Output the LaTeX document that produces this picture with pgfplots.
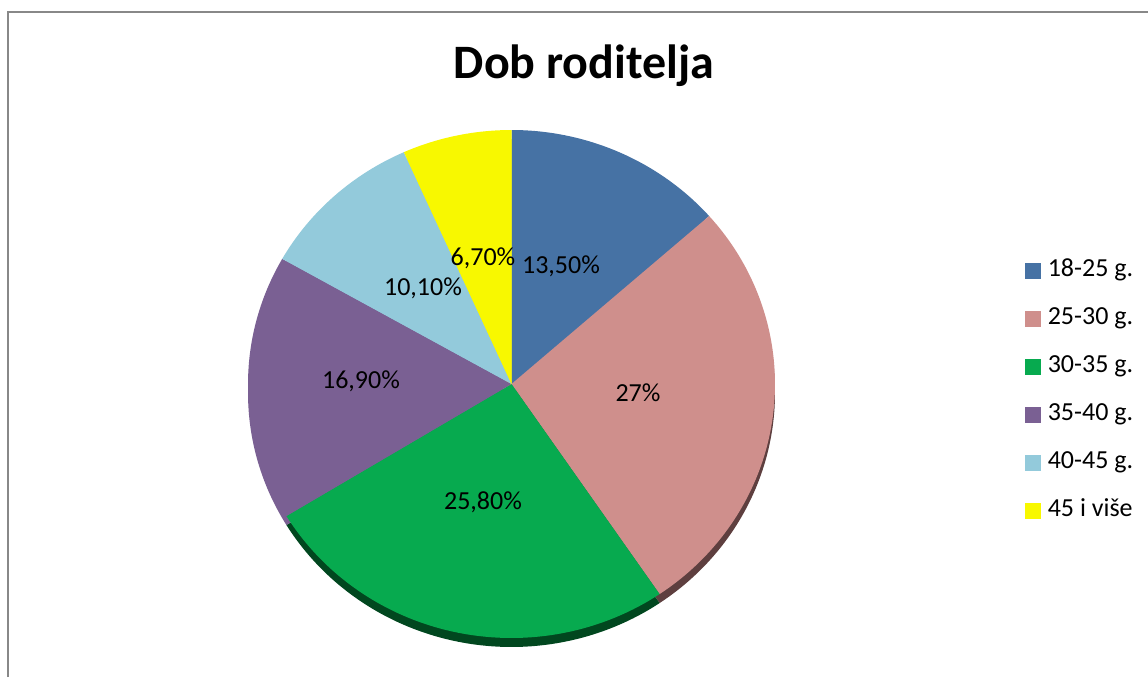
\documentclass[border=0pt]{standalone}
\usepackage{pgfplots}
\pgfplotsset{compat=1.18}
\usepackage{pgfplotstable}
\usepackage{fontspec}
\setmainfont{Carlito}
\definecolor{cA}{HTML}{4672A4}
\definecolor{cB}{HTML}{CF8F8C}
\definecolor{cC}{HTML}{07AA4F}
\definecolor{cD}{HTML}{7A6093}
\definecolor{cE}{HTML}{93CADB}
\definecolor{cF}{HTML}{F8F800}
\definecolor{rA}{HTML}{4672A4}
\definecolor{rB}{HTML}{5E3F3F}
\definecolor{rC}{HTML}{01471F}
\definecolor{rD}{HTML}{7A6093}
\definecolor{rE}{HTML}{93CADB}
\definecolor{rF}{HTML}{F8F800}
\definecolor{frame}{HTML}{888888}
% value (percent), colour, rim colour, label text, label centre in pixels (x, y from top)
\pgfplotstableread{
val col rim lbl lx ly
13.5 cA rA 13,50 561 265
27   cB rB 27    638 393
25.8 cC rC 25,80 483 501
16.9 cD rD 16,90 361 380
10.1 cE rE 10,10 423 287
6.7  cF rF 6,70  483 257
}\piedata
\begin{document}
\begin{tikzpicture}
\useasboundingbox (0,0) rectangle (574pt,338.5pt);
\begin{axis}[at={(0,0)}, anchor=south west, x=0.5pt, y=0.5pt,
  xmin=0, xmax=1148, ymin=0, ymax=677, hide axis, clip=false,
  legend style={at={(axis cs:1025,418.6)}, anchor=north west, draw=none, fill=none,
    font=\fontsize{13}{15}\selectfont, inner sep=0pt, outer sep=0pt,
    row sep=12pt, nodes={inner sep=0pt, text height=9pt, text depth=3pt},
    /tikz/every odd column/.append style={column sep=3.5pt}},
  legend cell align=left]
\pgfplotstablegetrowsof{\piedata}
\pgfmathtruncatemacro\N{\pgfplotsretval-1}
% rim (depth) of the 3-D pie
\gdef\acc{90}
\foreach \i in {0,...,\N}{
  \pgfplotstablegetelem{\i}{val}\of\piedata \let\v\pgfplotsretval
  \pgfplotstablegetelem{\i}{rim}\of\piedata \let\c\pgfplotsretval
  \pgfmathsetmacro\a{\acc}
  \pgfmathsetmacro\b{\acc-3.6*\v}
  \pgfmathsetmacro\px{511.5+263.5*cos(\a)}
  \pgfmathsetmacro\py{284+254*sin(\a)}
  \edef\cmd{\noexpand\fill[\c] (axis cs:511.5,284) -- (axis cs:\px,\py) arc[start angle=\a, end angle=\b, x radius=131.75pt, y radius=127pt] -- cycle;}
  \cmd
  \xdef\acc{\b}
}
% top face
\gdef\acc{90}
\foreach \i in {0,...,\N}{
  \pgfplotstablegetelem{\i}{val}\of\piedata \let\v\pgfplotsretval
  \pgfplotstablegetelem{\i}{col}\of\piedata \let\c\pgfplotsretval
  \pgfmathsetmacro\a{\acc}
  \pgfmathsetmacro\b{\acc-3.6*\v}
  \pgfmathsetmacro\px{511.5+263.5*cos(\a)}
  \pgfmathsetmacro\py{293+254*sin(\a)}
  \edef\cmd{\noexpand\fill[\c] (axis cs:511.5,293) -- (axis cs:\px,\py) arc[start angle=\a, end angle=\b, x radius=131.75pt, y radius=127pt] -- cycle;}
  \cmd
  \xdef\acc{\b}
}
% data labels
\foreach \i in {0,...,\N}{
  \pgfplotstablegetelem{\i}{lbl}\of\piedata \let\l\pgfplotsretval
  \pgfplotstablegetelem{\i}{lx}\of\piedata \let\lx\pgfplotsretval
  \pgfplotstablegetelem{\i}{ly}\of\piedata \let\ly\pgfplotsretval
  \pgfmathsetmacro\ty{677-\ly-8.4}
  \edef\cmd{\noexpand\node[anchor=base, inner sep=0pt, font=\noexpand\fontsize{13}{15}\noexpand\selectfont] at (axis cs:\lx,\ty) {\l\noexpand\%};}
  \cmd
}
% title and frame
\node[anchor=base, inner sep=0pt, font=\fontsize{24}{28}\selectfont\bfseries] at (axis cs:584,599) {Dob roditelja};
\draw[frame, line width=0.9pt] (axis cs:8,0) -- (axis cs:8,665) -- (axis cs:1148,665);
% legend
\addlegendimage{legend image code/.code={\fill[cA] (0pt,-3.75pt) rectangle (7.5pt,3.75pt);}}
\addlegendimage{legend image code/.code={\fill[cB] (0pt,-3.75pt) rectangle (7.5pt,3.75pt);}}
\addlegendimage{legend image code/.code={\fill[cC] (0pt,-3.75pt) rectangle (7.5pt,3.75pt);}}
\addlegendimage{legend image code/.code={\fill[cD] (0pt,-3.75pt) rectangle (7.5pt,3.75pt);}}
\addlegendimage{legend image code/.code={\fill[cE] (0pt,-3.75pt) rectangle (7.5pt,3.75pt);}}
\addlegendimage{legend image code/.code={\fill[cF] (0pt,-3.75pt) rectangle (7.5pt,3.75pt);}}
\legend{18-25 g.,25-30 g.,30-35 g.,35-40 g.,40-45 g.,45 i više}
\end{axis}
\end{tikzpicture}
\end{document}
